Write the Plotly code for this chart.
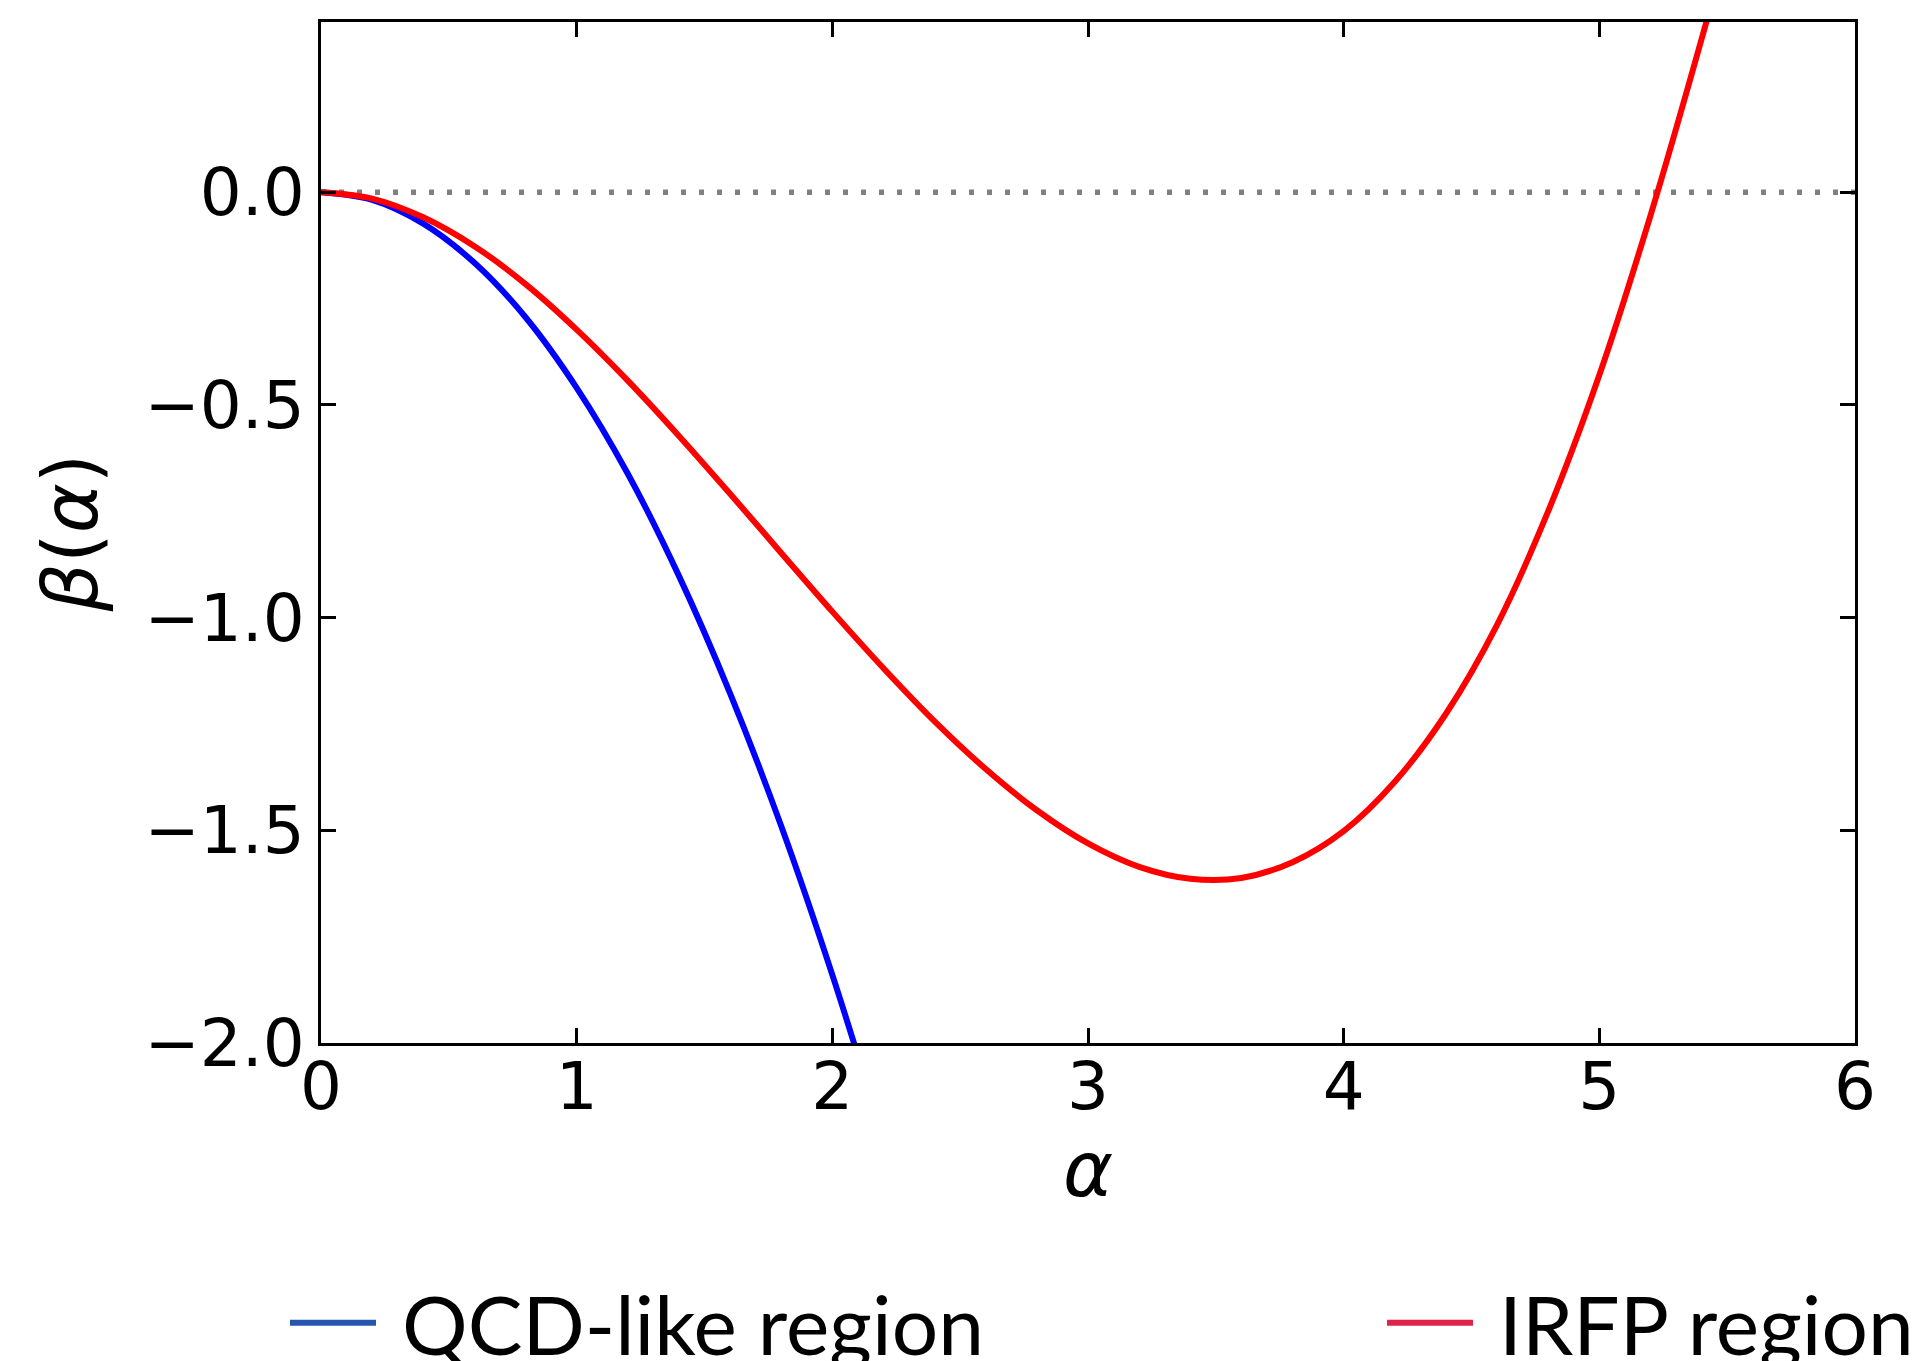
import plotly.graph_objects as go

# QCD-like region (blue)
alpha_qcd = [0.0, 0.2, 0.4, 0.6, 0.8, 1.0, 1.2, 1.4, 1.6, 1.8, 2.0, 2.2]
beta_qcd = [0.0, -0.018, -0.074, -0.166, -0.294, -0.46, -0.662, -0.902, -1.178, -1.49,
            -1.84, -2.226]

# IRFP region (red)
alpha_irfp = [0.0, 0.2, 0.4, 0.6, 0.8, 1.0, 1.2, 1.4, 1.6, 1.8, 2.0, 2.2, 2.4, 2.6,
              2.8, 3.0, 3.2, 3.4, 3.6, 3.8, 4.0, 4.2, 4.4, 4.6, 4.8, 5.0, 5.2, 5.4, 5.6]
beta_irfp = [0.0, -0.015, -0.059, -0.127, -0.216, -0.323, -0.443, -0.573, -0.709, -0.848,
             -0.986, -1.119, -1.244, -1.356, -1.453, -1.531, -1.586, -1.614, -1.612, -1.575,
             -1.502, -1.386, -1.226, -1.017, -0.75, -0.43, -0.055, 0.36, 0.80]

x_ticks = [0, 1, 2, 3, 4, 5, 6]
y_ticks = [-2.0, -1.5, -1.0, -0.5, 0.0]

series_names = ["QCD-like region", "IRFP region"]
legend_colors = ["#2356ac", "#e0234a"]

fig = go.Figure()
fig.add_trace(go.Scatter(x=[0, 6], y=[0, 0], mode="lines",
                         line=dict(color="#808080", width=5.5, dash="5px,13px"),
                         showlegend=False, hoverinfo="skip"))
fig.add_trace(go.Scatter(x=alpha_qcd, y=beta_qcd, mode="lines", name=series_names[0],
                         line=dict(color="#0000ff", width=6, shape="spline"),
                         showlegend=False))
fig.add_trace(go.Scatter(x=alpha_irfp, y=beta_irfp, mode="lines", name=series_names[1],
                         line=dict(color="#ff0000", width=6, shape="spline"),
                         showlegend=False))
# legend entries (the legend swatches use slightly different tones in the original)
fig.add_trace(go.Scatter(x=[None], y=[None], mode="lines", name="&nbsp;" + series_names[0],
                         line=dict(color=legend_colors[0], width=6), legend="legend"))
fig.add_trace(go.Scatter(x=[None], y=[None], mode="lines", name="&nbsp;" + series_names[1],
                         line=dict(color=legend_colors[1], width=6), legend="legend2"))

axis_common = dict(
    showline=True, linecolor="black", linewidth=3, mirror="ticks",
    ticks="inside", ticklen=15, tickwidth=3, tickcolor="black",
    showgrid=False, zeroline=False,
    tickfont=dict(family="DejaVu Sans", size=66, color="black"),
)

legend_common = dict(orientation="h", xanchor="left", xref="container",
                     y=38 / 1361, yanchor="middle", yref="container",
                     font=dict(family="Lato", size=82, color="black"), itemwidth=86,
                     bgcolor="rgba(0,0,0,0)")

fig.update_layout(
    width=1920, height=1361,
    margin=dict(l=321, r=65, t=22, b=318, autoexpand=False),
    plot_bgcolor="white", paper_bgcolor="white",
    xaxis=dict(range=[0, 6], tickvals=x_ticks, ticktext=[str(v) for v in x_ticks],
               ticklabelstandoff=-16,
               title=dict(text="<i>α</i>", font=dict(family="DejaVu Sans", size=76, color="black"),
                          standoff=14),
               **axis_common),
    yaxis=dict(range=[-2, 0.4], tickvals=y_ticks, tickformat=".1f",
               title=dict(text="<i>β</i>(<i>α</i>)", font=dict(family="DejaVu Sans", size=76, color="black"),
                          standoff=22),
               **axis_common),
    legend=dict(x=285 / 1920, **legend_common),
    legend2=dict(x=1382 / 1920, **legend_common),
)

fig.write_html("out.html")
